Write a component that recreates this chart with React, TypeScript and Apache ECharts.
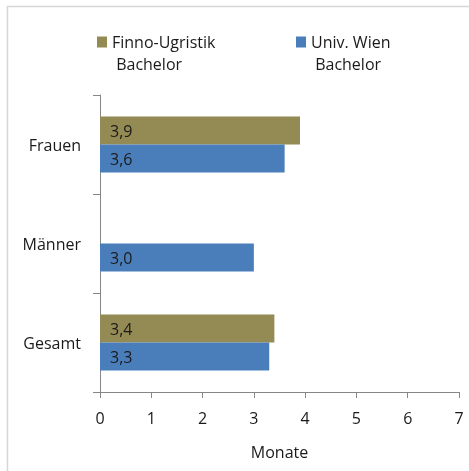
import React, { useEffect, useRef } from "react";
import * as echarts from "echarts";

const categories = ["Gesamt", "Männer", "Frauen"];
const seriesNames = ["Finno-Ugristik Bachelor", "Univ. Wien Bachelor"];
const finnoValues: (number | null)[] = [3.4, null, 3.9];
const wienValues: number[] = [3.3, 3.0, 3.6];
const xTicks = { min: 0, max: 7, interval: 1 };
const xAxisName = "Monate";

const FONT = "'Open Sans', 'Noto Sans', sans-serif";
const TEXT = "#1a1a1a";
const AXIS = "#868686";

export default function App() {
  const ref = useRef<HTMLDivElement>(null);
  useEffect(() => {
    if (!ref.current) return;
    const chart = echarts.init(ref.current, null, { renderer: "svg" });
    const label = {
      show: true,
      position: "insideLeft" as const,
      distance: 10,
      color: TEXT,
      fontFamily: FONT,
      fontSize: 16,
      formatter: (p: any) => Number(p.value).toFixed(1).replace(".", ","),
    };
    const legendBase = {
      top: 9,
      padding: 0,
      itemWidth: 10,
      itemHeight: 11,
      itemGap: 0,
      icon: "rect",
      formatter: (n: string) => "\n" + n.replace(" Bachelor", "\n Bachelor"),
      textStyle: {
        fontFamily: FONT,
        fontSize: 16,
        color: TEXT,
        lineHeight: 22,
      },
      selectedMode: false,
    };
    chart.setOption({
      animation: false,
      textStyle: { fontFamily: FONT },
      graphic: [
        {
          type: "rect",
          shape: { x: 7.5, y: 6.5, width: 500, height: 500 },
          style: { fill: "none", stroke: "#D6D6D6", lineWidth: 1.5 },
          silent: true,
        },
      ],
      legend: [
        { ...legendBase, left: 97, data: [seriesNames[0]] },
        { ...legendBase, left: 296, data: [seriesNames[1]] },
      ],
      grid: { left: 100, right: 10, top: 95, bottom: 79 },
      xAxis: {
        type: "value",
        min: xTicks.min,
        max: xTicks.max,
        interval: xTicks.interval,
        name: xAxisName,
        nameLocation: "middle",
        nameGap: 52,
        nameTextStyle: { fontFamily: FONT, fontSize: 16, color: TEXT },
        splitLine: { show: false },
        axisLine: { show: true, lineStyle: { color: AXIS, width: 1 } },
        axisTick: { show: true, length: 6, lineStyle: { color: AXIS } },
        axisLabel: {
          fontFamily: FONT,
          fontSize: 16,
          color: TEXT,
          margin: 18,
        },
      },
      yAxis: {
        type: "category",
        data: categories,
        axisLine: { show: true, lineStyle: { color: AXIS, width: 1 } },
        axisTick: { show: true, length: 7, lineStyle: { color: AXIS } },
        axisLabel: {
          fontFamily: FONT,
          fontSize: 16,
          color: TEXT,
          margin: 19,
        },
      },
      series: [
        {
          name: seriesNames[0],
          type: "bar",
          data: finnoValues,
          barWidth: 28,
          barGap: "0%",
          itemStyle: { color: "#948A54" },
          label,
        },
        {
          name: seriesNames[1],
          type: "bar",
          data: wienValues,
          barWidth: 28,
          barGap: "0%",
          itemStyle: { color: "#4A7EBB" },
          label,
        },
      ],
    });
    return () => chart.dispose();
  }, []);
  return (
    <div
      ref={ref}
      style={{ position: "fixed", left: 0, top: 0, width: 469, height: 471 }}
    />
  );
}
